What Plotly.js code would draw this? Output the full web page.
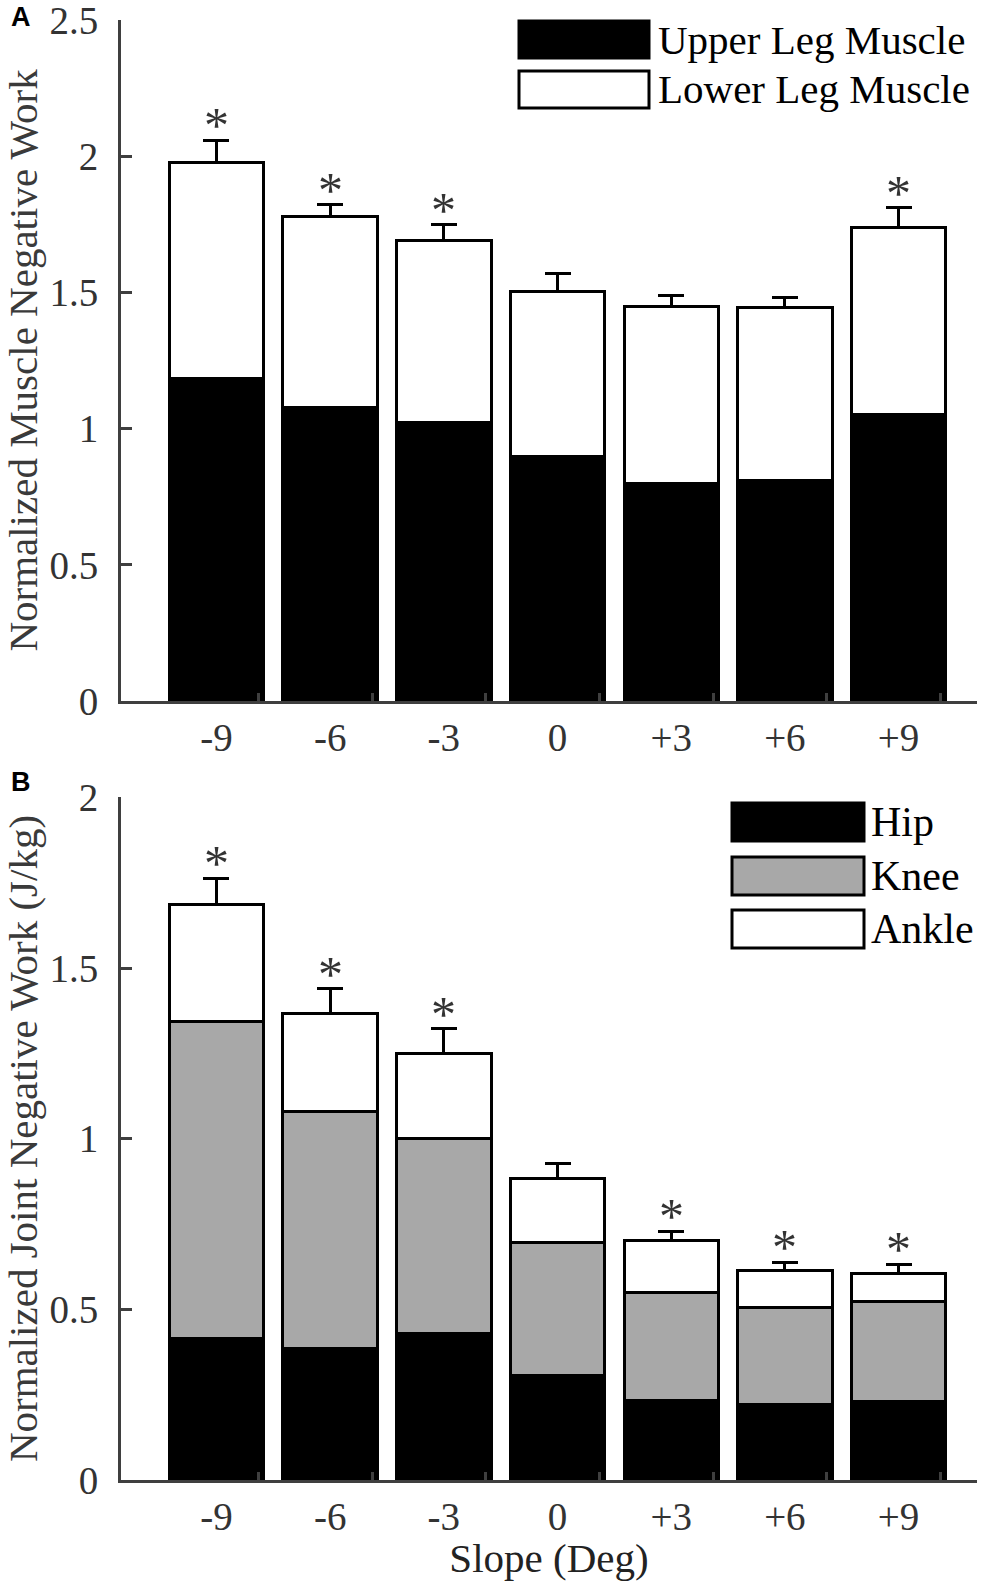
<!DOCTYPE html>
<html>
<head>
<meta charset="utf-8">
<script src="https://cdn.plot.ly/plotly-3.0.1.min.js"></script>
<style>
  html, body { margin: 0; padding: 0; background: #fff; }
  #chart { width: 981px; height: 1581px; }
</style>
</head>
<body>
<div id="chart"></div>
<script>
// slope conditions
const categories = ["-9", "-6", "-3", "0", "+3", "+6", "+9"];

// panel A: normalized muscle negative work
const upperLeg  = [1.185, 1.078, 1.023, 0.897, 0.798, 0.809, 1.052];
const lowerLeg  = [0.792, 0.702, 0.668, 0.606, 0.653, 0.635, 0.687];
const muscleErr = [0.083, 0.044, 0.059, 0.067, 0.037, 0.040, 0.074];
const muscleSig = [true, true, true, false, false, false, true];

// panel B: normalized joint negative work (J/kg)
const hip      = [0.414, 0.384, 0.428, 0.307, 0.234, 0.222, 0.230];
const knee     = [0.930, 0.697, 0.573, 0.390, 0.316, 0.283, 0.293];
const ankle    = [0.343, 0.287, 0.249, 0.186, 0.153, 0.109, 0.083];
const jointErr = [0.077, 0.071, 0.073, 0.045, 0.026, 0.024, 0.026];
const jointSig = [true, true, true, false, true, true, true];

const serif = "Liberation Serif, Times New Roman, serif";
const axisGrey = "#3f3f3f";
const W = 981, H = 1581;
const M = { l: 121, r: 4, t: 20, b: 101 };

const xi = categories.map((_, i) => i);
const zeros = xi.map(() => 0);

const barTrace = (y, fill, xa, ya, err) => {
    let t = {
        type: "bar",
        x: xi,
        y: y,
        xaxis: xa,
        yaxis: ya,
        width: 0.83,
        marker: { color: fill, line: { color: "black", width: 3 } },
        showlegend: false,
        hoverinfo: "skip",
    };
    if (err) {
        t.error_y = {
            type: "data",
            symmetric: false,
            array: err,
            arrayminus: zeros,
            color: "black",
            thickness: 3,
            width: 13,
        };
    }
    return t;
};

const series = [
    barTrace(upperLeg, "black", "x", "y"),
    barTrace(lowerLeg, "white", "x", "y", muscleErr),
    barTrace(hip, "black", "x2", "y2"),
    barTrace(knee, "#a8a8a8", "x2", "y2"),
    barTrace(ankle, "white", "x2", "y2", jointErr),
];

const xAxis = (anchor) => ({
    anchor: anchor,
    range: [-0.84, 6.69],
    tickmode: "array",
    tickvals: xi,
    ticktext: categories,
    ticks: "",
    showline: true,
    linecolor: axisGrey,
    linewidth: 3,
    showgrid: false,
    zeroline: false,
    fixedrange: true,
    tickfont: { family: serif, size: 39, color: "#333" },
    ticklabelstandoff: 0,
    minor: {
        tickmode: "array",
        tickvals: xi.map((i) => i + 0.37),
        ticks: "inside",
        ticklen: 8,
        tickwidth: 3,
        tickcolor: axisGrey,
        showgrid: false,
    },
});

const yAxis = (anchor, top, domain, title) => ({
    anchor: anchor,
    domain: domain,
    range: [0, top * 1.0008],
    tickmode: "array",
    tickvals: xi.map((i) => i * 0.5).filter((v) => v <= top),
    ticks: "inside",
    ticklen: 11,
    tickwidth: 3,
    tickcolor: axisGrey,
    showline: true,
    linecolor: axisGrey,
    linewidth: 3,
    showgrid: false,
    zeroline: false,
    fixedrange: true,
    ticklabeloverflow: "allow",
    tickfont: { family: serif, size: 39, color: "#333" },
    ticklabelstandoff: 12,
    title: { text: title, font: { family: serif, size: 41, color: "#3a3a3a" }, standoff: 4 },
});

// pixel -> paper helpers for the hand drawn legends and panel letters
const plotW = W - M.l - M.r, plotH = H - M.t - M.b;
const px = (x) => (x - M.l) / plotW;
const py = (y) => (H - M.b - y) / plotH;

const shapes = [];
const annotations = [];

const legendA = { names: ["Upper Leg Muscle", "Lower Leg Muscle"], fills: ["black", "white"] };
const legendB = { names: ["Hip", "Knee", "Ankle"], fills: ["black", "#a8a8a8", "white"] };

const drawLegend = (leg, x0, x1, tops, h, tx, fs) => {
    leg.names.forEach((name, i) => {
        shapes.push({
            type: "rect", xref: "paper", yref: "paper",
            x0: px(x0), x1: px(x1), y0: py(tops[i]), y1: py(tops[i] + h),
            fillcolor: leg.fills[i], line: { color: "black", width: 3 },
        });
        annotations.push({
            xref: "paper", yref: "paper", x: px(tx), y: py(tops[i] + h / 2),
            xanchor: "left", yanchor: "middle", showarrow: false,
            text: name, font: { family: serif, size: fs, color: "black" },
        });
    });
};
drawLegend(legendA, 519, 649, [21, 71], 37, 656, 41);
drawLegend(legendB, 732, 864, [803, 857, 910], 38, 869, 42);

const addStars = (sig, tops, err, xa, ya) => {
    sig.forEach((s, i) => {
        if (!s) return;
        annotations.push({
            xref: xa, yref: ya, x: i, y: tops[i] + err[i],
            yanchor: "bottom", showarrow: false, yshift: -15,
            text: "*", font: { family: serif, size: 50, color: "#333" },
        });
    });
};
addStars(muscleSig, upperLeg.map((v, i) => v + lowerLeg[i]), muscleErr, "x", "y");
addStars(jointSig, hip.map((v, i) => v + knee[i] + ankle[i]), jointErr, "x2", "y2");

[["A", 17], ["B", 782]].forEach(([letter, y]) => {
    annotations.push({
        xref: "paper", yref: "paper", x: px(21), y: py(y),
        xanchor: "center", yanchor: "middle", showarrow: false,
        text: "<b>" + letter + "</b>",
        font: { family: "Liberation Sans, Arial, sans-serif", size: 27, color: "black" },
    });
});

const layout = {
    width: W,
    height: H,
    margin: M,
    paper_bgcolor: "white",
    plot_bgcolor: "white",
    barmode: "stack",
    showlegend: false,
    xaxis: xAxis("y"),
    yaxis: yAxis("x", 2.5, [0.5336, 1], "Normalized Muscle Negative Work"),
    xaxis2: Object.assign(xAxis("y2"), {
        title: { text: "Slope (Deg)", font: { family: serif, size: 41, color: "#222" }, standoff: 16 },
    }),
    yaxis2: yAxis("x2", 2, [0, 0.4678], "Normalized Joint Negative Work (J/kg)"),
    shapes: shapes,
    annotations: annotations,
};

Plotly.newPlot("chart", series, layout, { responsive: false, displayModeBar: false, staticPlot: true });
</script>
</body>
</html>
